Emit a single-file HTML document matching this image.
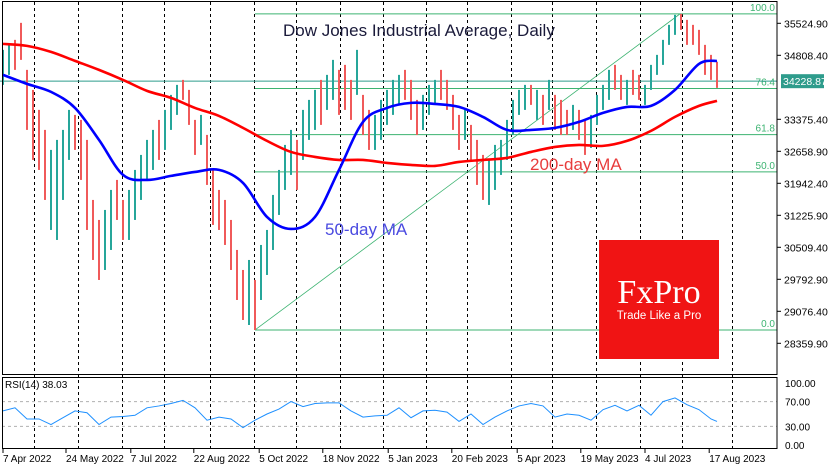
<!DOCTYPE html>
<html><head><meta charset="utf-8"><style>
html,body{margin:0;padding:0;background:#fff;}
svg{display:block;font-family:"Liberation Sans",sans-serif;}
</style></head><body>
<svg id="c" width="835" height="470" viewBox="0 0 835 470">
<rect x="0" y="0" width="835" height="470" fill="#fff"/>
<g id="grid"></g>
<g id="fib"></g>
<g id="candles"></g>
<g id="mas"></g>
<g id="rsi"></g>
<g id="axes"></g>
<text x="283" y="36" font-size="17" fill="#1a1a3a">Dow Jones Industrial Average, Daily</text>
<text x="325" y="235" font-size="17" fill="#4a4ae0">50-day MA</text>
<text x="530" y="170" font-size="17" fill="#e83c3c">200-day MA</text>
<g>
<rect x="599" y="240" width="120" height="119" fill="#f01414"/>
<text x="659" y="303" font-size="34" fill="#fff" text-anchor="middle" font-family="Liberation Serif,serif">FxPro</text>
<text x="659" y="319" font-size="11.5" fill="#fff" text-anchor="middle">Trade Like a Pro</text>
</g>
<text x="5" y="388" font-size="10" fill="#000">RSI(14) 38.03</text>
</svg>
<script>
const hi=[34930,35042,35154,35535,34482,34034,33586,33138,32690,32914,33138,33586,33474,33362,32914,31570,31122,31346,31794,32018,31570,31794,32242,32578,32914,33138,33362,33586,33922,34146,34258,34034,33362,33474,33026,32242,31794,31570,31122,30450,30002,30226,29778,30562,30898,31682,32242,32802,33138,32914,33586,33810,34034,34258,34370,34706,34482,34594,34258,34930,33922,33586,33474,33810,34034,34258,34370,34482,34258,33810,33922,34146,34258,34482,34258,33922,33474,33586,33250,32914,32578,32466,32802,32914,33362,33810,34034,34146,34146,34034,33922,34258,33922,33810,33586,33698,33586,33362,33474,33922,34146,34482,34594,34370,34258,34482,34370,34146,34594,34818,35154,35490,35714,35736,35602,35490,35378,35042,34818,34661];
const lo=[34146,34370,34482,34706,33138,32466,32242,31570,30898,30674,31570,32466,32690,32018,30898,30226,29778,30002,30450,31122,30674,30674,31122,31570,32018,32242,32466,32690,33138,33474,33810,33250,32578,32802,31906,31010,30898,30562,30002,29330,28882,28770,28658,29330,29890,30450,31234,31794,32130,31794,32466,32914,33138,33250,33586,33810,33474,33586,33362,33922,33026,32690,32690,32914,33250,33474,33698,33810,33362,33026,33138,33474,33698,33810,33586,33138,32690,32914,32466,31906,31570,31458,31794,32130,32466,33026,33474,33586,33698,33362,33250,33586,33138,33026,33026,33138,32914,32578,32735,33250,33586,33810,34034,33810,33698,33922,33810,33698,34034,34370,34594,35042,35266,35378,35042,35042,34818,34370,34258,34079];
const dir=[1,1,0,0,0,0,0,0,1,1,1,1,0,0,0,0,0,1,1,0,0,1,1,1,1,1,0,1,1,1,0,0,0,1,0,0,0,0,0,0,0,1,0,1,1,1,1,1,1,0,1,1,1,0,1,1,0,0,0,1,0,0,1,1,1,1,1,0,0,0,1,1,1,0,0,0,0,1,0,0,0,1,1,1,1,1,1,1,0,1,0,1,0,0,0,1,0,0,1,1,1,1,0,0,1,0,0,1,1,1,1,1,1,0,0,0,0,0,0,0];
const ma50=[34370,34168,33989,33630,32914,32130,32018,32108,32197,32242,31951,31189,30920,31189,32242,33317,33630,33743,33720,33653,33429,33138,33138,33183,33317,33519,33653,33676,34034,34616,34684];
const ma200=[35064,35020,34885,34684,34482,34258,34012,33855,33630,33451,33183,32892,32645,32533,32466,32466,32399,32354,32332,32421,32466,32511,32645,32757,32802,32780,32892,33116,33429,33676,33788];
const rsiVals=[55,60,42,42,33,44,55,52,33,45,46,48,60,63,67,72,60,40,45,42,28,40,50,58,70,62,67,68,68,55,45,47,48,60,44,55,56,53,38,50,33,45,55,63,67,63,45,50,48,40,57,64,55,64,48,70,76,65,57,42,38];
const priceTicks=[35524.90,34808.40,33375.40,32658.90,31942.40,31225.90,30509.40,29792.90,29076.40,28359.90];
const rsiTicks=[100,70,30,0];
const dateLabels=["7 Apr 2022","24 May 2022","7 Jul 2022","22 Aug 2022","5 Oct 2022","18 Nov 2022","5 Jan 2023","20 Feb 2023","5 Apr 2023","19 May 2023","4 Jul 2023","17 Aug 2023"];
const dateBars=[0,10.5,21.3,31.8,42.7,53.3,64.2,74.8,85.7,96.3,107,117.7];
const fibLevels=[100,76.4,61.8,50,0];
const fibHigh=35736, fibLow=28658;
const lastPrice=34228.87;

const NS="http://www.w3.org/2000/svg";
function mk(tag,attrs,parent){const e=document.createElementNS(NS,tag);for(const k in attrs)e.setAttribute(k,attrs[k]);parent.appendChild(e);return e;}
const xB=i=>3+6*i;
const yP=p=>23.3+(35524.9-p)*32/716.5;
const yR=v=>445-v*0.62;
const G=id=>document.getElementById(id);
function smooth(pts){
 let d='M'+pts[0][0]+','+pts[0][1];
 for(let i=0;i<pts.length-1;i++){
  const p0=pts[Math.max(0,i-1)],p1=pts[i],p2=pts[i+1],p3=pts[Math.min(pts.length-1,i+2)];
  const c1x=p1[0]+(p2[0]-p0[0])/6,c1y=p1[1]+(p2[1]-p0[1])/6;
  const c2x=p2[0]-(p3[0]-p1[0])/6,c2y=p2[1]-(p3[1]-p1[1])/6;
  d+=' C'+c1x+','+c1y+' '+c2x+','+c2y+' '+p2[0]+','+p2[1];
 }
 return d;
}

const gridX=[34,78,122,164,210,254,296,340,383,426,467,511,552,596,640,682,732];
gridX.forEach(x=>{
 const l=mk('line',{x1:x+.5,x2:x+.5,y1:2,y2:449,stroke:'#000','stroke-dasharray':'3,3','stroke-width':1},G('grid'));
 
 
});

const fy0=yP(fibLow), fy1=yP(fibHigh);
fibLevels.forEach(lv=>{
 const y=fy0-(fy0-fy1)*lv/100;
 const l=mk('line',{x1:255,x2:777,y1:y,y2:y,stroke:'#3cb371','stroke-width':1},G('fib'));
 
 
 const t=mk('text',{x:775,y:y-3,'font-size':10,fill:'#3cb371','text-anchor':'end'},G('fib'));
 t.textContent=lv.toFixed(1);
 
 
});
const tl=mk('line',{x1:255,y1:fy0,x2:680,y2:fy1,stroke:'#3cb371','stroke-width':0.8},G('fib'));


const bl=mk('line',{x1:0,x2:777,y1:yP(lastPrice),y2:yP(lastPrice),stroke:'#2e9c8c','stroke-width':1},G('fib'));



const n=Math.min(hi.length,lo.length,dir.length);
for(let i=0;i<n;i++){
 const r=mk('rect',{x:xB(i)-1,y:yP(hi[i]),width:2,height:Math.max(1,yP(lo[i])-yP(hi[i])),fill:dir[i]?'#26a69a':'#f05a5a'},G('candles'));
 
 
}

function maLine(arr,color,name){
 const pts=arr.map((v,k)=>[xB(Math.min(4*k,n-1)),yP(v)]);
 const p=mk('path',{d:smooth(pts),fill:'none',stroke:color,'stroke-width':2.6,'stroke-linejoin':'round'},G('mas'));
 
 
}
maLine(ma200,'#ff0000','ma200-line');
maLine(ma50,'#0000ff','ma50-line');

[70,30].forEach(v=>{
 const l=mk('line',{x1:2,x2:777,y1:yR(v),y2:yR(v),stroke:'#b0b0b0','stroke-dasharray':'3,3'},G('rsi'));
 
 
});
const rp=rsiVals.map((v,k)=>xB(Math.min(2*k,n-1))+','+yR(v)).join(' ');
const rl=mk('polyline',{points:rp,fill:'none',stroke:'#1e90ff','stroke-width':1},G('rsi'));



const A=G('axes');
const f1=mk('rect',{x:2.5,y:1.5,width:774.5,height:373,fill:'none',stroke:'#000','stroke-width':1},A);


const f2=mk('rect',{x:2.5,y:377.5,width:774.5,height:71,fill:'none',stroke:'#000','stroke-width':1},A);


priceTicks.forEach(p=>{
 const y=yP(p);
 const t=mk('line',{x1:777,x2:781,y1:y,y2:y,stroke:'#000'},A);
 
 
 const tx=mk('text',{x:784,y:y+4,'font-size':10.5,fill:'#000'},A);
 tx.textContent=p.toFixed(2);
 
 
});
rsiTicks.forEach(v=>{
 const y=yR(v);
 const tx=mk('text',{x:785,y:y+4,'font-size':10,fill:'#000'},A);
 tx.textContent=v.toFixed(2);
 
 
});
const pb=mk('rect',{x:781,y:yP(lastPrice)-7,width:43,height:14,fill:'#2e9c8c'},A);


const pt=mk('text',{x:783,y:yP(lastPrice)+4,'font-size':10.5,fill:'#fff'},A);
pt.textContent=lastPrice.toFixed(2);


dateLabels.forEach((d,k)=>{
 const x=k===0?3:xB(dateBars[k]);
 const t=mk('line',{x1:x,x2:x,y1:449,y2:453,stroke:'#000'},A);
 
 
 const tx=mk('text',{x:x,y:462,'font-size':10,fill:'#000'},A);
 tx.textContent=d;
 
 
});
</script>
</body></html>
